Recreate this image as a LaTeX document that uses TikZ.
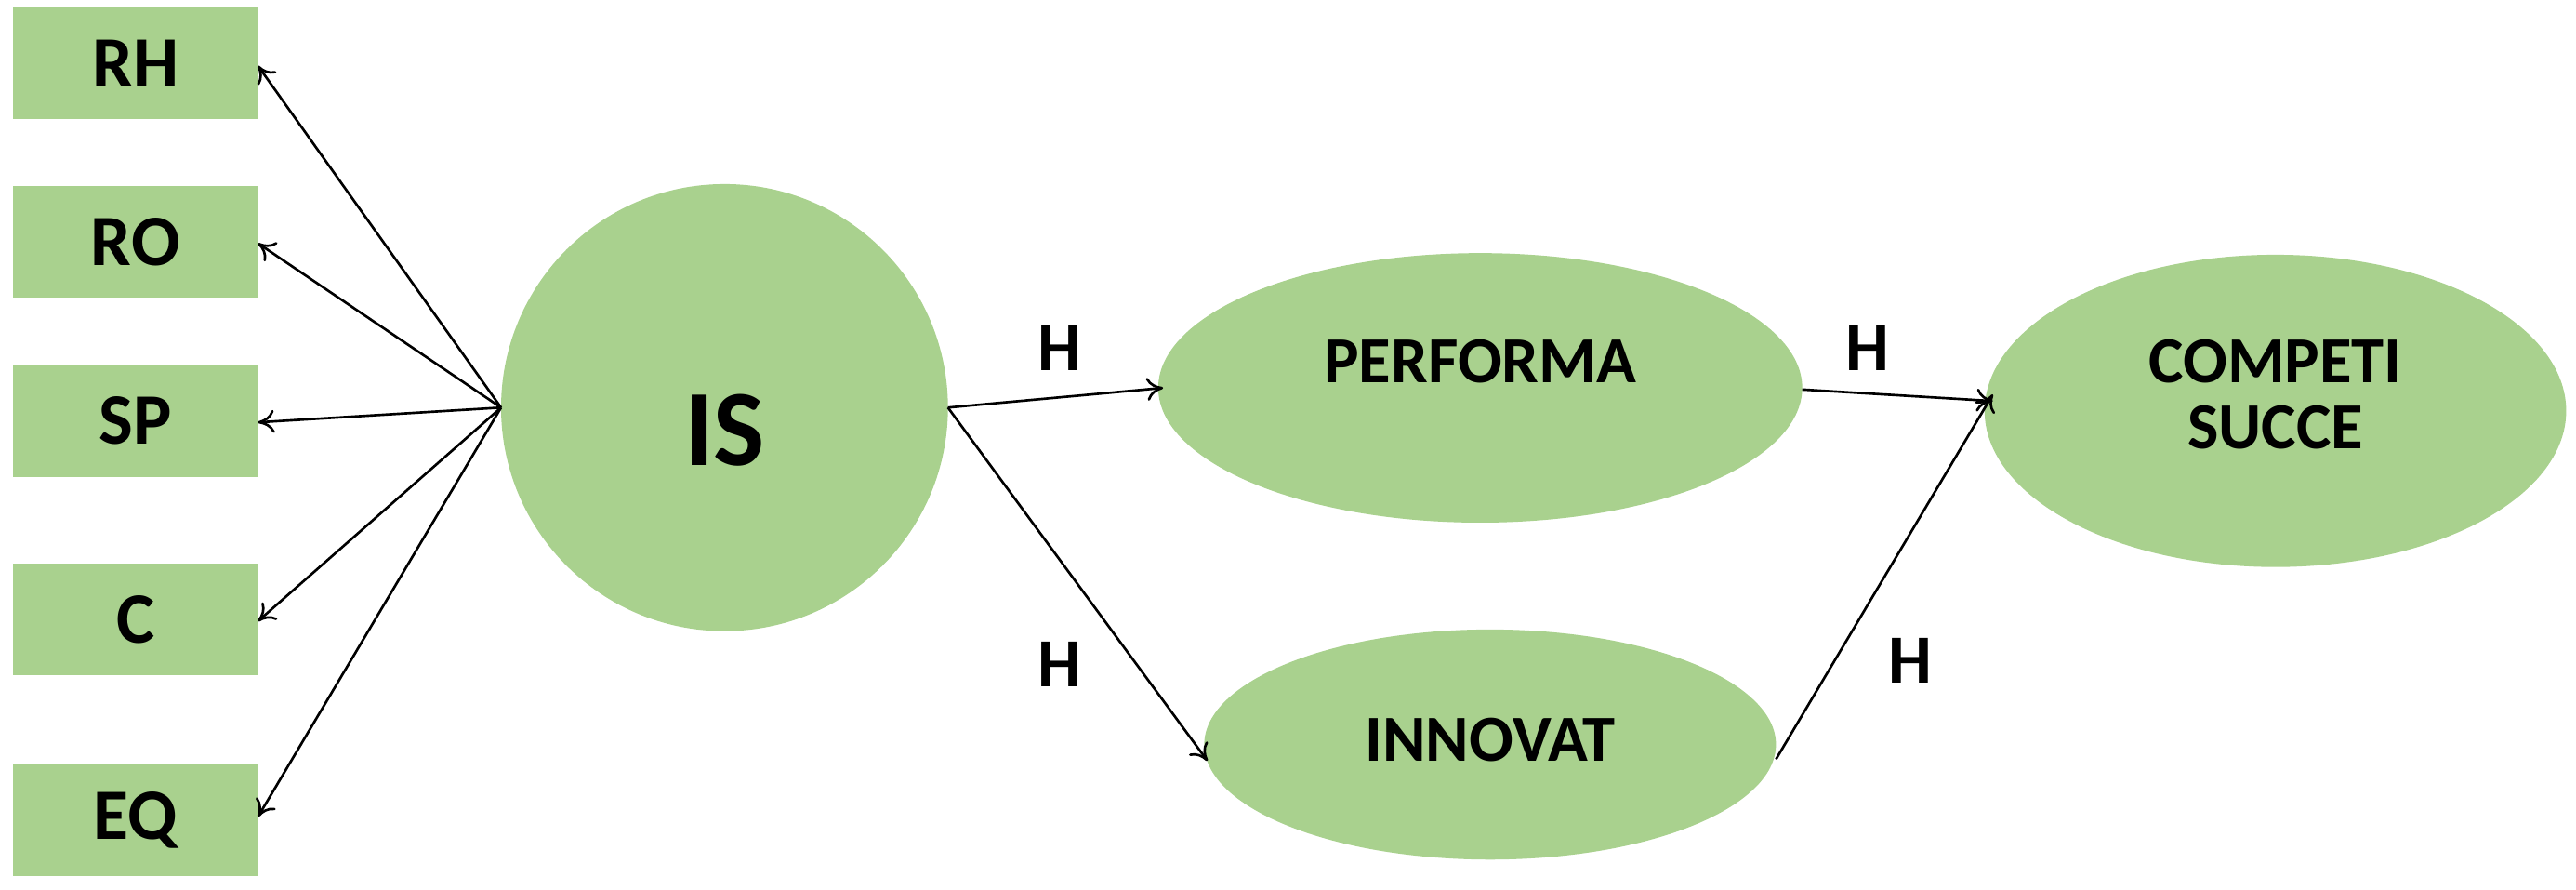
\documentclass[tikz,border=0pt]{standalone}
\usepackage{fontspec}
\setmainfont{Carlito}
\usetikzlibrary{arrows.meta}
\definecolor{gf}{HTML}{A9D18E}
\begin{document}
\begin{tikzpicture}[x=1pt,y=-1pt,
 box/.style={fill=gf,draw=none,minimum width=149pt,minimum height=68pt,font=\fontsize{44}{48}\selectfont\bfseries},
 lat/.style={fill=gf,draw=none,ellipse,inner sep=0pt},
 lbl/.style={font=\fontsize{42}{46}\selectfont\bfseries},
 arr/.style={-{To[length=10pt,width=14pt]},line width=1.5pt}]
\useasboundingbox (0,0) rectangle (1568,541);
\node[box] (rh) at (82.5,38.5) {RH};
\node[box] (ro) at (82.5,147) {RO};
\node[box] (sp) at (82.5,256) {SP};
\node[box] (c) at (82.5,377) {C};
\node[box] (eq) at (82.5,499) {EQ};
\fill[gf] (441,248) ellipse [x radius=136,y radius=136];
\node[font=\fontsize{66}{70}\selectfont\bfseries] (is) at (441,262) {IS};
\fill[gf] (901,236) ellipse [x radius=196,y radius=82];
\node[lbl,font=\fontsize{40}{44}\selectfont\bfseries] (pf) at (901,220) {PERFORMA};
\fill[gf] (907,453) ellipse [x radius=174,y radius=70];
\node[lbl,font=\fontsize{40}{44}\selectfont\bfseries] (in) at (907,450) {INNOVAT};
\fill[gf] (1385,250) ellipse [x radius=177,y radius=95];
\node[lbl,font=\fontsize{40}{40}\selectfont\bfseries,align=center] (cs) at (1385,240) {COMPETI\\SUCCE};
\coordinate (isl) at (305,248);
\coordinate (isr) at (577,248);
\coordinate (pfl) at (708,236);
\coordinate (pfr) at (1097,237);
\coordinate (inl) at (735,463);
\coordinate (inr) at (1081,462);
\coordinate (csl) at (1213,244);
\coordinate (csl2) at (1213,240);
\foreach \t/\y in {rh/40,ro/148,sp/257,c/378,eq/497}
  \draw[arr] (isl) -- (157,\y);
\draw[arr] (isr) -- (pfl);
\draw[arr] (isr) -- (inl);
\draw[arr] (pfr) -- (csl);
\draw[arr] (inr) -- (csl2);
\node[lbl] (h1) at (645,212) {H};
\node[lbl] (h2) at (1137,212) {H};
\node[lbl] (h3) at (645,404) {H};
\node[lbl] (h4) at (1163,402) {H};
\end{tikzpicture}
\end{document}
